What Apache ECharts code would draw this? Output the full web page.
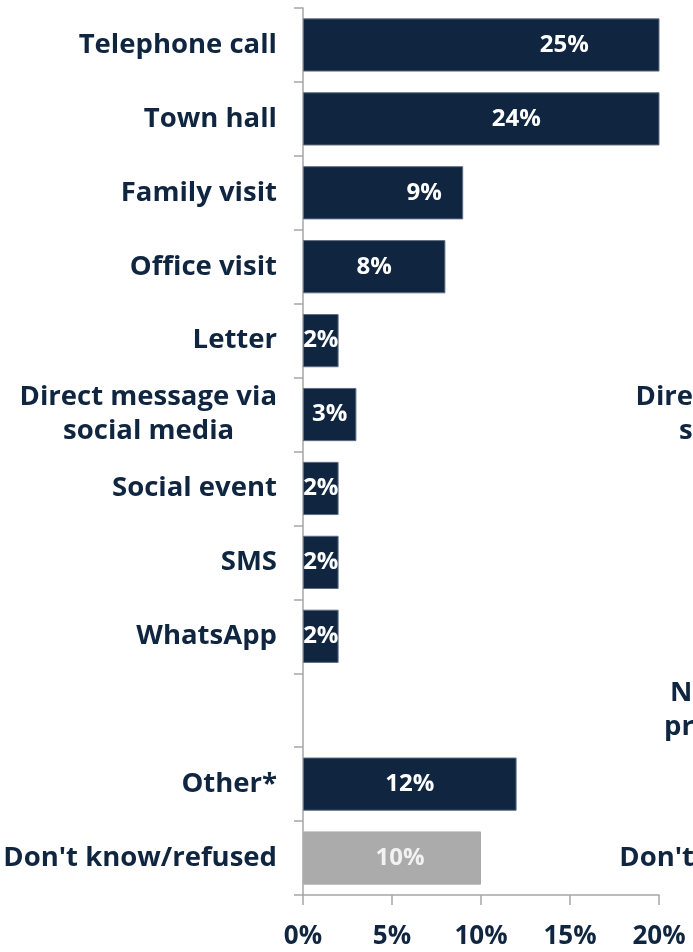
<!DOCTYPE html>
<html>
<head>
<meta charset="utf-8">
<script src="https://cdn.jsdelivr.net/npm/echarts@6/dist/echarts.min.js"></script>
<style>
  html, body { margin: 0; padding: 0; background: #fff; }
  #chart { width: 693px; height: 952px; }
</style>
</head>
<body>
<div id="chart"></div>
<script>
// left panel
var categories = ['Telephone call', 'Town hall', 'Family visit', 'Office visit', 'Letter',
    'Direct message via\nsocial media', 'Social event', 'SMS', 'WhatsApp', '', 'Other*',
    "Don't know/refused"];
var values = [25, 24, 9, 8, 2, 3, 2, 2, 2, null, 12, 10];
var xTicks = [0, 5, 10, 15, 20];

// right panel (mostly cut off by the picture edge)
var rightCategories = ['Telephone call', 'Town hall', 'Family visit', 'Office visit', 'Letter',
    'Direct message via\nsocial media', 'Social event', 'SMS', 'WhatsApp',
    'No contact used\nprefer not to say', 'Other*', "Don't know/refused"];

var navy = '#0f2540';
var grey = '#ababab';
var axisGrey = '#a6a6a6';
var font = 'Open Sans';
var catFontSize = 27.5;

// nudges for a few labels, as placed in the original
var labelShift = [83, 35, 41, 0, 0, 0, 0, 0, 0, 0, 0, 8];

var barData = values.map(function (v, i) {
    var item = {value: v, label: {offset: [labelShift[i], 0]}};
    if (i === values.length - 1) {
        item.itemStyle = {color: grey, borderColor: grey};
        item.label.color = '#f2f2f2';
    }
    return item;
});

// two-line labels are centred on each other, the block sits right
var ctx = document.createElement('canvas').getContext('2d');
ctx.font = 'bold ' + catFontSize + 'px "' + font + '"';
function centreLines(text) {
    var lines = text.split('\n');
    if (lines.length < 2) return text;
    var widths = lines.map(function (l) { return ctx.measureText(l).width; });
    var maxW = Math.max.apply(null, widths);
    var sp = ctx.measureText(' ').width;
    return lines.map(function (l, i) {
        var n = Math.round((maxW - widths[i]) / 2 / sp);
        return l + new Array(n + 1).join(' ');
    }).join('\n');
}

var chartContainer = document.getElementById('chart');
var barChart = echarts.init(chartContainer, null, {renderer: 'canvas'});

var catLabel = {
    color: navy,
    fontFamily: font,
    fontWeight: 'bold',
    fontSize: catFontSize,
    lineHeight: 34,
    align: 'right',
    margin: 26,
    formatter: centreLines
};

barChart.setOption({
    animation: false,
    grid: [
        {left: 303, top: 8, right: 34, bottom: 57, containLabel: false},
        {left: 919, top: 8, width: 356, bottom: 57, containLabel: false}
    ],
    xAxis: [{
        gridIndex: 0,
        type: 'value',
        min: 0,
        max: 20,
        interval: 5,
        axisLine: {show: true, lineStyle: {color: axisGrey, width: 1.5}},
        axisTick: {show: true, length: 10, lineStyle: {color: axisGrey, width: 1.5}},
        splitLine: {show: false},
        axisLabel: {
            color: navy,
            fontFamily: font,
            fontWeight: 'bold',
            fontSize: 26,
            margin: 29,
            formatter: function (v) { return xTicks.indexOf(v) >= 0 ? v + '%' : ''; }
        }
    }, {
        gridIndex: 1,
        type: 'value',
        min: 0,
        max: 20,
        show: false
    }],
    yAxis: [{
        gridIndex: 0,
        type: 'category',
        inverse: true,
        data: categories,
        axisLine: {show: true, lineStyle: {color: axisGrey, width: 1.5}},
        axisTick: {show: true, length: 9, lineStyle: {color: axisGrey, width: 1.5}},
        axisLabel: catLabel
    }, {
        gridIndex: 1,
        type: 'category',
        inverse: true,
        data: rightCategories,
        axisLine: {show: true, lineStyle: {color: axisGrey, width: 1.5}},
        axisTick: {show: true, length: 9, lineStyle: {color: axisGrey, width: 1.5}},
        axisLabel: catLabel
    }],
    series: [{
        type: 'bar',
        xAxisIndex: 0,
        yAxisIndex: 0,
        data: barData,
        barCategoryGap: '28%',
        itemStyle: {color: navy, borderColor: '#5f6e82', borderWidth: 1},
        label: {
            show: true,
            position: 'inside',
            color: '#ffffff',
            fontFamily: font,
            fontWeight: 'bold',
            fontSize: 24,
            formatter: function (p) { return p.value + '%'; }
        }
    }]
});

window.addEventListener('resize', function () {
    barChart.resize();
});
</script>
</body>
</html>
